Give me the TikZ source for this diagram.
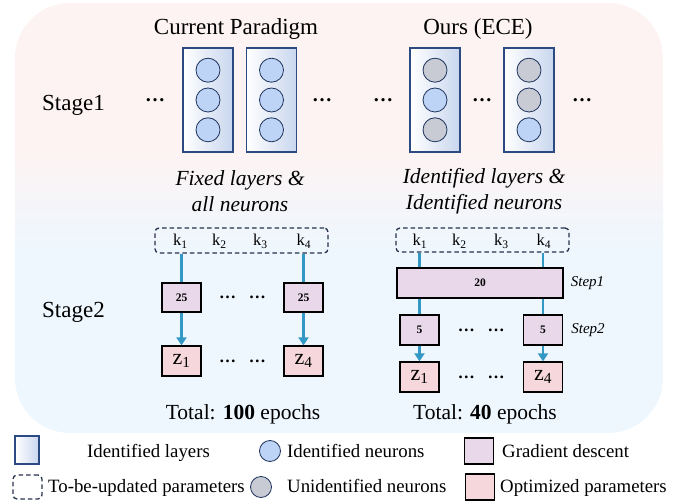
\documentclass[tikz,border=0pt]{standalone}
\usepackage{fontspec}
\setmainfont{Liberation Serif}
\usepackage{xcolor}
\usepackage{tikz}
\usetikzlibrary{arrows.meta, positioning, calc}

\definecolor{stagepink}{RGB}{253,243,243}
\definecolor{stageblue}{RGB}{238,247,254}
\definecolor{layerframe}{RGB}{44,74,130}
\definecolor{layerfill}{RGB}{200,214,238}
\definecolor{neuronframe}{RGB}{31,52,92}
\definecolor{neuronblue}{RGB}{190,212,246}
\definecolor{neurongray}{RGB}{200,202,212}
\definecolor{gdfill}{RGB}{232,216,234}
\definecolor{optfill}{RGB}{246,216,220}
\definecolor{linkblue}{RGB}{52,152,196}
\definecolor{dashframe}{RGB}{38,50,76}

\begin{document}
\begin{tikzpicture}[
    x=1pt, y=-1pt,
    layer/.style={rectangle, draw=layerframe, line width=1.8pt, left color=white, right color=layerfill, minimum width=50pt, minimum height=104pt, inner sep=0pt},
    neuron/.style={circle, draw=neuronframe, line width=0.8pt, fill=#1, minimum size=24pt, inner sep=0pt},
    neuron/.default=neuronblue,
    param/.style={rectangle, draw=dashframe, dashed, dash pattern=on 4.5pt off 3pt, line width=1.3pt, rounded corners=4pt, inner sep=0pt},
    gdbox/.style={rectangle, draw=black, line width=1.3pt, fill=gdfill, minimum width=39pt, minimum height=29pt, inner sep=0pt, font=\fontsize{11.5}{13}\selectfont\bfseries},
    optbox/.style={rectangle, draw=black, line width=1.3pt, fill=optfill, minimum width=39pt, minimum height=30pt, inner sep=0pt, font=\fontsize{22}{24}\selectfont},
    link/.style={draw=linkblue, line width=2.6pt},
    arrow/.style={link, -{Triangle[width=10pt, length=8pt]}},
    title/.style={font=\fontsize{23}{27}\selectfont, inner sep=0pt},
    caption/.style={font=\fontsize{21.5}{26}\selectfont\itshape, align=center, inner sep=0pt},
    keytext/.style={font=\fontsize{16.5}{18}\selectfont, inner sep=0pt},
    dots/.style={font=\fontsize{20}{20}\selectfont\bfseries, inner sep=0pt},
    rowdots/.style={font=\fontsize{17}{17}\selectfont\bfseries, inner sep=0pt},
    steptext/.style={font=\fontsize{15}{17}\selectfont\itshape, inner sep=0pt},
    legend/.style={font=\fontsize{18.8}{22}\selectfont, inner sep=0pt}
]
\useasboundingbox (0,0) rectangle (683,502);

% Background of both stages
\begin{scope}
\clip[rounded corners=55pt] (15,3) rectangle (663,433);
\fill[stagepink] (15,3) rectangle (663,150);
\shade[top color=stagepink, bottom color=stageblue] (15,150) rectangle (663,250);
\fill[stageblue] (15,250) rectangle (663,433);
\end{scope}

% Titles and stage names
\node[title, anchor=base] (cpTitle) at (236,35) {Current Paradigm};
\node[title, anchor=base] (eceTitle) at (478,35) {Ours (ECE)};
\node[title, anchor=base west] (stage1) at (42,111) {Stage1};
\node[title, anchor=base west] (stage2) at (42,318) {Stage2};

% Stage1: layers
\node[layer] (cl1) at (208,100) {};
\node[layer] (cl2) at (271.5,100) {};
\node[layer] (el1) at (435,100) {};
\node[layer] (el2) at (529,100) {};

% Stage1: neurons
\node[neuron] (cl1b) at (cl1) {};
\node[neuron, above=5pt of cl1b] (cl1a) {};
\node[neuron, below=5pt of cl1b] (cl1c) {};
\node[neuron] (cl2b) at (cl2) {};
\node[neuron, above=5pt of cl2b] (cl2a) {};
\node[neuron, below=5pt of cl2b] (cl2c) {};
\node[neuron] (el1b) at (el1) {};
\node[neuron=neurongray, above=5pt of el1b] (el1a) {};
\node[neuron=neurongray, below=5pt of el1b] (el1c) {};
\node[neuron=neurongray] (el2b) at (el2) {};
\node[neuron=neurongray, above=5pt of el2b] (el2a) {};
\node[neuron, below=5pt of el2b] (el2c) {};

% Stage1: dots
\node[dots] (dot1) at (155,100) {…};
\node[dots] (dot2) at (322,100) {…};
\node[dots] (dot3) at (383,100) {…};
\node[dots] (dot4) at (482,100) {…};
\node[dots] (dot5) at (582,100) {…};

% Captions
\node[caption] (cpCap) at (240,191) {Fixed layers \&\\all neurons};
\node[caption] (eceCap) at (484,191) {Identified layers \&\\Identified neurons};

% Stage2: current paradigm
\node[param, minimum width=173pt, minimum height=25pt] (cpKeys) at (241.5,240.5) {};
\node[keytext, anchor=base] (ck1) at (180.5,246) {k\textsubscript{1}};
\node[keytext, anchor=base] (ck2) at (219.5,246) {k\textsubscript{2}};
\node[keytext, anchor=base] (ck3) at (260.5,246) {k\textsubscript{3}};
\node[keytext, anchor=base] (ck4) at (304,246) {k\textsubscript{4}};
\node[gdbox] (cg1) at (181.5,297.5) {25};
\node[gdbox] (cg4) at (303.5,297.5) {25};
\node[optbox] (cz1) at (181.5,361) {z\textsubscript{1}};
\node[optbox] (cz4) at (303.5,361) {z\textsubscript{4}};
\node[rowdots] (cgDots) at ($(cg1)!0.5!(cg4)$) {…\hspace{13pt}…};
\node[rowdots] (czDots) at ($(cz1)!0.5!(cz4)$) {…\hspace{13pt}…};

\draw[link] (cg1.north |- cpKeys.south) -- (cg1.north);
\draw[link] (cg4.north |- cpKeys.south) -- (cg4.north);
\draw[arrow] (cg1) -- (cz1);
\draw[arrow] (cg4) -- (cz4);

% Stage2: ECE
\node[param, minimum width=173pt, minimum height=24pt] (eceKeys) at (482.5,240) {};
\node[keytext, anchor=base] (ek1) at (420,246) {k\textsubscript{1}};
\node[keytext, anchor=base] (ek2) at (459.5,246) {k\textsubscript{2}};
\node[keytext, anchor=base] (ek3) at (501.5,246) {k\textsubscript{3}};
\node[keytext, anchor=base] (ek4) at (544,246) {k\textsubscript{4}};
\node[gdbox, minimum width=166pt, minimum height=30pt] (eg20) at (480,283) {20};
\node[gdbox, minimum height=30pt] (eg1) at (419.5,330) {5};
\node[gdbox, minimum height=30pt] (eg4) at (543,330) {5};
\node[optbox] (ez1) at (419.5,377) {z\textsubscript{1}};
\node[optbox] (ez4) at (543,377) {z\textsubscript{4}};
\node[rowdots] (egDots) at ($(eg1)!0.5!(eg4)$) {…\hspace{13pt}…};
\node[rowdots] (ezDots) at ($(ez1)!0.5!(ez4)$) {…\hspace{13pt}…};
\node[steptext, right=7pt of eg20] (step1) {Step1};
\node[steptext, right=8pt of eg4] (step2) {Step2};

\draw[link] (eg1.north |- eceKeys.south) -- (eg1.north |- eg20.north);
\draw[link] (eg4.north |- eceKeys.south) -- (eg4.north |- eg20.north);
\draw[link] (eg1.north |- eg20.south) -- (eg1.north);
\draw[link] (eg4.north |- eg20.south) -- (eg4.north);
\draw[arrow] (eg1) -- (ez1);
\draw[arrow] (eg4) -- (ez4);

% Totals
\node[title, font=\fontsize{21.5}{26}\selectfont, anchor=base] (cpTotal) at (243,420) {Total: \textbf{100} epochs};
\node[title, font=\fontsize{21.5}{26}\selectfont, anchor=base] (eceTotal) at (485,420) {Total: \textbf{40} epochs};

% Legend
\node[layer, minimum width=24pt, minimum height=28pt] (lgLayer) at (27,450) {};
\node[legend, anchor=base west] (lgLayerText) at (87,457) {Identified layers};
\node[neuron, minimum size=21pt] (lgNeuron) at (270,451) {};
\node[legend, anchor=base west] (lgNeuronText) at (287,457) {Identified neurons};
\node[gdbox, minimum width=29pt, minimum height=26pt] (lgGd) at (479,451) {};
\node[legend, anchor=base west] (lgGdText) at (502,457) {Gradient descent};
\node[param, minimum width=29pt, minimum height=24pt] (lgParam) at (27.5,487) {};
\node[legend, anchor=base west] (lgParamText) at (48,493) {To-be-updated parameters};
\node[neuron=neurongray, minimum size=21pt] (lgGray) at (261,487) {};
\node[legend, anchor=base west] (lgGrayText) at (287,493) {Unidentified neurons};
\node[optbox, minimum width=29pt, minimum height=26pt] (lgOpt) at (480,487) {};
\node[legend, anchor=base west] (lgOptText) at (500,493) {Optimized parameters};
\end{tikzpicture}
\end{document}
